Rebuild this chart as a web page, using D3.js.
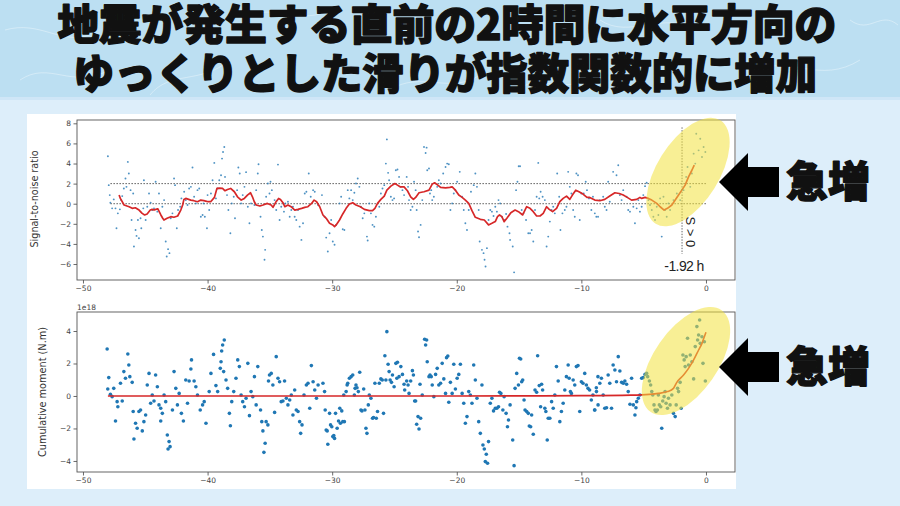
<!DOCTYPE html>
<html><head><meta charset="utf-8">
<script src="https://cdn.jsdelivr.net/npm/d3@7/dist/d3.min.js"></script>
<style>body{margin:0;padding:0;background:#ddeefa;}svg{display:block;}</style>
</head><body><svg id="c" width="900" height="506"></svg>
<script>
// ---------- DATA ----------
const titleLines = ["地震が発生する直前の2時間に水平方向の", "ゆっくりとした滑りが指数関数的に増加"];
const calloutText = "急増";
const snrLabel = "Signal-to-noise ratio";
const momentLabel = "Cumulative moment (N.m)";
const xTicks = [-50, -40, -30, -20, -10, 0];
const snrTicks = [-6, -4, -2, 0, 2, 4, 6, 8];
const momentTicks = [-4, -2, 0, 2, 4];
const snrThresholds = [0, 2];
const onsetTime = -1.92;
const onsetLabel = "-1.92 h";
const onsetNote = "S > 0";

// top panel: signal-to-noise ratio samples [time h, SNR]
const snrPoints = [
[-48.0,4.72],[-47.93,1.85],[-47.85,0.86],[-47.8,0.10],[-47.66,-0.46],[-47.53,0.43],[-47.39,-0.46],[-47.31,-2.44],[-47.2,-0.96],[-47.04,-0.56],
[-46.94,0.36],[-46.85,0.76],[-46.72,1.52],[-46.59,2.51],[-46.51,1.68],[-46.40,4.16],[-46.32,3.0],[-46.18,1.35],[-46.10,-1.62],[-45.97,1.02],
[-45.91,-4.26],[-45.78,-2.61],[-45.70,-3.2],[-45.59,-1.62],[-45.51,-3.43],[-45.38,-1.45],[-45.32,-2.44],[-45.16,-0.46],[-45.11,2.34],[-44.97,-1.62],
[-44.84,-0.30],[-44.70,1.02],[-44.57,0.10],[-44.44,-0.63],[-44.30,-0.46],[-44.17,2.18],[-44.03,-0.79],[-43.90,1.02],[-43.76,-2.44],[-43.63,-0.30],
[-43.49,0.36],[-43.36,-3.76],[-43.28,-5.25],[-43.17,-4.52],[-43.06,-4.92],[-42.96,-1.45],[-42.82,-0.96],[-42.69,2.51],[-42.61,1.85],[-42.47,-2.44],
[-42.37,-0.63],[-42.20,-0.30],[-42.10,0.53],[-41.88,1.19],[-41.75,0.36],[-41.61,-0.13],[-41.48,1.52],[-41.34,1.68],[-41.21,3.60],[-41.08,0.69],
[-40.94,0.03],[-40.81,1.35],[-40.67,1.52],[-40.54,-1.29],[-40.40,-1.12],[-40.32,0.03],[-40.22,-1.29],[-40.05,-2.44],[-40.0,0.86],[-39.87,-0.63],
[-39.73,1.02],[-39.60,2.34],[-39.46,4.06],[-39.33,0.53],[-39.19,1.52],[-39.06,2.34],[-38.92,2.84],[-38.84,4.49],[-38.76,5.15],[-38.66,5.64],
[-38.60,2.67],[-38.44,0.86],[-38.33,-0.63],[-38.17,-2.94],[-38.06,0.03],[-37.90,0.69],[-37.80,-1.45],[-37.63,1.35],[-37.53,3.60],[-37.42,3.0],
[-37.31,0.03],[-37.18,0.86],[-37.04,1.68],[-36.91,3.14],[-36.77,-0.30],[-36.64,-1.95],[-36.51,0.03],[-36.24,-0.13],[-36.10,1.35],[-35.97,3.0],
[-35.91,3.93],[-35.75,-1.29],[-35.65,-2.61],[-35.56,-3.27],[-35.43,-5.58],[-35.38,-4.59],[-35.30,0.69],[-35.16,2.01],[-35.03,1.02],[-34.95,2.18],
[-34.84,1.35],[-34.62,0.36],[-34.49,-0.63],[-34.35,3.89],[-34.22,-1.62],[-34.09,-0.30],[-33.87,-0.79],[-33.76,0.03],[-33.55,0.20],[-33.41,-1.29],
[-33.28,-0.63],[-33.15,-0.30],[-33.01,-1.29],[-32.88,-1.62],[-32.74,-0.63],[-32.61,-2.28],[-32.47,-3.60],[-32.34,-1.95],[-32.20,1.02],[-32.07,1.19],
[-31.88,3.0],[-31.72,0.69],[-31.53,1.35],[-31.40,1.19],[-31.13,-0.13],
[-30.82,0.86],[-30.61,-1.29],[-30.48,-3.37],[-30.35,-4.75],[-30.21,-2.94],[-30.08,-1.62],[-29.95,-3.76],[-29.81,-4.09],[-29.68,-2.11],[-29.41,0.03],
[-29.28,0.69],[-29.15,-2.54],[-29.02,-2.61],[-28.75,1.35],[-28.62,0.53],[-28.48,1.35],[-28.35,0.36],[-28.22,1.09],[-28.09,2.01],[-27.95,2.51],
[-27.82,1.68],[-27.69,-0.30],[-27.55,-1.45],[-27.42,-0.96],[-27.21,-3.27],[-27.15,-3.66],[-27.02,0.03],[-26.89,-0.96],[-26.76,-2.11],[-26.62,-2.28],
[-26.49,-1.29],[-26.22,-0.30],[-26.09,1.02],[-25.96,1.52],[-25.82,1.85],[-25.69,3.99],[-25.61,6.40],[-25.51,3.07],[-25.43,2.34],[-25.29,0.69],
[-25.16,0.36],[-25.03,0.53],[-24.89,3.33],[-24.76,3.40],[-24.63,2.67],[-24.49,1.68],[-24.36,1.35],[-24.23,0.86],[-24.02,2.67],[-23.91,1.68],
[-23.83,0.36],[-23.70,-0.63],[-23.56,-0.30],[-23.43,2.18],[-23.30,1.35],[-23.22,-0.63],[-23.11,-2.77],[-23.03,-3.33],[-22.90,-2.11],[-22.77,0.36],
[-22.63,5.64],[-22.50,5.05],[-22.42,5.58],[-22.37,3.33],[-22.23,3.50],[-22.15,1.02],[-22.05,1.35],[-21.97,0.36],[-21.84,0.69],[-21.57,1.68],
[-21.44,2.34],[-21.30,2.01],[-21.09,3.0],[-20.90,3.66],[-20.77,3.99],[-20.64,3.93],[-20.51,-0.63],[-20.37,0.03],[-20.24,1.02],[-20.11,1.35],
[-19.97,2.18],[-19.76,3.17],[-19.57,0.69],[-19.44,-0.63],[-19.31,-1.95],[-19.18,-2.61],[-19.04,-0.63],[-18.86,1.19],[-18.64,1.85],[-18.51,3.0],
[-18.38,1.68],[-18.24,-0.63],[-18.16,-3.76],[-17.98,-4.59],[-17.85,-4.92],[-17.77,-5.58],[-17.69,-6.24],[-17.58,-4.42],[-17.45,-1.62],[-17.31,-0.63],
[-17.18,-0.79],[-17.05,-1.22],[-16.91,-0.30],[-16.78,-0.79],[-16.65,0.36],[-16.52,0.03],[-16.38,-1.29],[-16.20,-1.62],[-16.04,-1.02],[-15.93,-2.28],
[-15.77,-2.94],[-15.72,-3.60],[-15.51,-4.26],[-15.40,-6.83],[-15.24,1.35],[-15.13,2.18],[-15.03,3.73],[-14.92,3.73],[-14.79,-0.63],[-14.65,-0.96],
[-14.44,-1.62],[-14.26,-2.94],[-14.12,-2.94],[-13.99,-2.61],[-13.86,-3.76],[-13.72,-0.63],[-13.59,0.69],[-13.46,4.06],[-13.38,0.53],[-13.27,1.19],
[-13.11,0.69],[-12.93,0.36],[-12.79,-4.26],[-12.66,-3.27],[-12.53,-1.78],[-12.39,-0.63],[-12.26,-0.30],[-12.13,-0.96],[-11.94,3.0],[-11.78,0.69],
[-11.68,-2.61],[-11.52,-0.96],[-11.33,-0.63],[-11.20,-0.30],[-11.06,3.17],[-10.93,1.68],[-10.80,1.02],[-10.66,-0.63],[-10.53,-1.29],[-10.40,3.0],
[-10.27,2.84],[-10.13,-1.62],[-10.0,1.02],[-9.81,1.02],[-9.65,2.18],[-9.55,1.35],[-9.39,0.53],[-9.20,-0.63],[-9.07,0.69],[-8.80,-1.29],
[-8.92,-0.96],[-8.66,-1.29],[-8.52,0.36],[-8.25,0.69],[-8.12,-0.30],[-7.98,-0.63],[-7.85,2.18],[-7.72,0.20],[-7.45,3.17],[-7.18,2.84],
[-7.04,3.83],[-6.91,0.86],[-6.77,0.36],[-6.64,1.35],[-6.37,0.69],[-6.24,-0.63],[-6.10,-0.79],[-5.83,-0.30],[-5.70,-1.95],[-5.56,-0.46],
[-5.43,0.36],[-5.30,-0.79],[-5.16,-0.30],[-5.03,0.86],[-4.89,1.75],[-4.76,2.08],[-4.62,0.36],[-4.49,-0.13],[-4.35,-0.63],[-4.22,-1.29],
[-4.09,-1.62],[-3.95,-0.30],[-3.82,-1.12],[-3.68,0.53],[-3.55,-3.27],[-3.41,0.69],[-3.28,-0.63],[-3.15,-1.29],[-3.01,0.03],[-2.88,-0.63],
[-2.61,0.36],[-2.34,1.02],[-2.07,0.36],[-1.80,1.35],[-1.59,2.67],[-1.48,3.66],[-1.26,1.68],[-1.13,3.0],[-0.99,4.98],[-0.86,3.99],
[-0.78,6.96],[-0.59,5.31],[-0.46,6.47],[-0.32,4.65],[-0.19,5.64],[-0.05,5.15]
];

// top panel: running mean of SNR [time h, SNR]
const snrMean = [
[-47.1,0.86],[-47.0,0.53],[-46.7,-0.13],[-46.3,-0.30],[-46.05,-0.46],[-45.8,-0.40],[-45.5,-0.63],[-45.25,-0.96],[-45.05,-1.12],[-44.85,-1.02],
[-44.6,-0.63],[-44.45,-0.56],[-44.3,-0.63],[-44.15,-0.56],[-44.0,-0.50],[-43.75,-1.12],[-43.6,-1.45],[-43.5,-1.62],[-43.25,-1.45],[-42.95,-1.29],
[-42.7,-1.35],[-42.4,-1.22],[-42.15,-0.63],[-42.0,-0.13],[-41.9,0.43],[-41.75,0.53],[-41.35,0.36],[-41.1,0.30],[-40.8,0.20],[-40.55,0.36],
[-40.3,0.30],[-40.15,0.26],[-39.95,0.20],[-39.75,0.20],[-39.45,0.63],[-39.25,1.52],[-39.05,1.55],[-38.8,1.52],[-38.6,1.29],[-38.4,1.42],
[-38.15,1.52],[-37.85,1.19],[-37.6,0.69],[-37.3,0.36],[-37.05,0.53],[-36.8,0.86],[-36.55,1.09],[-36.4,0.69],[-36.25,0.20],[-36.1,-0.13],
[-35.8,-0.23],[-35.55,-0.13],[-35.2,0.03],[-34.9,-0.13],[-34.75,-0.36],[-34.5,0.20],[-34.3,0.53],[-34.15,0.43],[-33.95,0.10],[-33.8,-0.30],
[-33.55,-0.13],[-33.3,-0.30],[-33.0,-0.63],[-32.75,-0.56],[-32.45,-0.46],[-32.2,-0.36],[-31.95,-0.30],[-31.65,0.03],[-31.45,0.36],[-31.25,0.20],
[-31.0,-0.30],[-30.74,-1.12],[-30.48,-1.45],[-30.21,-1.95],[-29.95,-2.11],[-29.81,-2.28],[-29.68,-2.11],[-29.41,-1.62],[-29.15,-1.02],[-28.88,-0.46],
[-28.62,-0.03],[-28.35,0.10],[-28.09,-0.13],[-27.74,-0.30],[-27.42,-0.56],[-27.02,-0.69],[-26.76,-0.69],[-26.57,-0.46],[-26.36,0.03],[-26.09,0.43],
[-25.82,0.76],[-25.61,1.35],[-25.29,1.75],[-24.97,2.01],[-24.76,1.85],[-24.55,1.68],[-24.23,1.68],[-23.96,1.29],[-23.70,0.69],[-23.48,0.43],
[-23.30,0.63],[-23.03,1.09],[-22.63,1.19],[-22.23,1.35],[-21.97,1.95],[-21.78,2.08],[-21.52,1.85],[-21.30,1.62],[-20.90,1.58],[-20.56,1.62],
[-20.37,1.68],[-20.11,1.35],[-19.84,0.86],[-19.57,0.63],[-19.31,0.36],[-19.04,0.03],[-18.78,-0.69],[-18.51,-1.35],[-18.11,-1.55],[-17.79,-1.62],
[-17.45,-2.11],[-17.18,-1.95],[-16.91,-1.78],[-16.73,-1.29],[-16.57,-1.12],[-16.38,-1.29],[-16.20,-1.78],[-15.98,-1.45],[-15.66,-0.89],[-15.32,-0.63],
[-15.05,-0.79],[-14.71,-1.12],[-14.39,-0.30],[-14.12,-0.46],[-13.86,-0.79],[-13.59,-1.22],[-13.32,-1.22],[-13.06,-0.96],[-12.79,-0.30],[-12.58,-0.56],
[-12.31,-0.79],[-11.99,-0.46],[-11.73,0.20],[-11.46,0.53],[-11.19,0.76],[-10.93,0.43],[-10.72,0.86],[-10.45,1.35],[-10.19,1.19],[-9.87,0.96],
[-9.55,0.63],[-9.33,0.63],[-8.92,0.36],[-8.52,0.30],[-8.12,0.43],[-7.72,0.76],[-7.31,1.09],[-6.96,1.02],[-6.64,0.86],[-6.32,0.63],
[-5.97,0.36],[-5.56,0.43],[-5.30,0.63],[-5.16,0.53],[-4.89,0.63],[-4.62,0.53],[-4.35,0.36],[-3.95,0.03],[-3.68,-0.30],[-3.36,-0.63],
[-3.09,-0.46],[-2.74,-0.13],[-2.47,0.36],[-2.20,0.86],[-1.94,1.35],[-1.67,1.85],[-1.40,2.67],[-1.13,3.33],[-0.94,3.83]
];

// bottom panel: cumulative moment samples [time h, moment / 1e18 N.m]
const momentPoints = [
[-48.06,2.89],[-47.93,1.13],[-48.01,0.43],[-47.80,0.10],[-47.66,-0.04],[-47.53,0.47],[-47.39,-1.54],[-47.26,-0.35],[-47.20,-0.66],[-46.99,0.78],
[-46.85,-0.31],[-46.72,1.50],[-46.59,1.09],[-46.40,2.58],[-46.32,1.91],[-46.24,1.19],[-46.05,0.84],[-45.97,-0.96],[-45.91,-2.65],[-45.78,-1.68],
[-45.65,-1.99],[-45.51,-0.96],[-45.38,-0.86],[-45.24,-2.15],[-45.11,-1.58],[-44.97,-1.17],[-44.84,0.68],[-44.70,1.39],[-44.57,-0.45],[-44.44,0.06],
[-44.30,-0.31],[-44.17,1.29],[-44.03,0.57],[-43.90,-0.55],[-43.76,-0.76],[-43.63,-1.07],[-43.76,-1.54],[-43.49,0.06],[-43.36,-0.35],[-43.23,-2.40],
[-43.17,-3.26],[-43.09,-2.81],[-43.01,-3.12],[-42.82,-0.86],[-42.69,1.50],[-42.55,0.47],[-42.42,-0.55],[-42.28,0.16],[-42.10,-1.07],[-41.94,-1.54],
[-41.75,0.98],[-41.61,-0.45],[-41.48,0.92],[-41.34,1.66],[-41.29,2.22],[-41.08,0.92],[-40.94,0.57],[-40.81,0.06],[-40.59,-0.86],[-40.40,-0.55],
[-40.27,-0.35],[-40.13,-1.68],[-39.87,0.27],[-39.73,1.39],[-39.52,2.56],[-39.33,0.64],[-39.19,0.27],[-38.98,1.70],[-38.92,2.11],[-38.87,2.77],
[-38.79,3.14],[-38.66,3.45],[-38.71,1.50],[-38.52,0.98],[-38.39,0.47],[-38.25,-1.07],[-38.17,-1.83],[-38.06,-0.35],[-37.90,0.27],[-37.72,1.09],
[-37.58,2.22],[-37.45,1.81],[-37.31,0.06],[-37.18,-0.35],[-37.04,-0.66],[-36.91,-0.14],[-36.77,2.01],[-36.64,-1.21],[-36.51,0.27],[-36.37,-0.04],
[-36.24,1.19],[-36.10,-0.55],[-35.97,1.81],[-35.75,-0.86],[-35.65,-1.58],[-35.56,-2.15],[-35.48,-3.47],[-35.38,-2.91],[-35.30,-1.58],[-35.16,-1.78],
[-35.11,0.92],[-35.03,1.29],[-34.89,1.39],[-34.76,0.68],[-34.62,-1.01],[-34.49,2.42],[-34.35,1.09],[-34.22,0.88],[-34.09,-0.35],[-33.95,-0.31],
[-33.82,0.92],[-33.68,-0.14],[-33.55,-0.55],[-33.41,-0.25],[-33.28,0.06],[-33.15,-1.17],[-33.01,0.37],[-32.88,-0.86],[-32.74,-0.96],[-32.61,-1.58],
[-32.53,-2.30],[-32.42,-1.78],[-32.26,0.06],[-32.07,0.68],[-31.94,0.78],[-31.80,-0.76],[-31.67,1.87],[-31.53,0.88],[-31.40,0.37],[-31.26,-0.14],
[-31.13,0.68],
[-30.74,0.78],[-30.61,0.27],[-30.56,-0.86],[-30.48,-2.09],[-30.40,-2.15],[-30.35,-2.97],[-30.21,-1.07],[-30.13,-1.78],[-30.03,-1.89],[-29.95,-2.50],
[-29.87,-2.44],[-29.81,-2.61],[-29.73,-1.07],[-29.60,-1.99],[-29.49,-1.54],[-29.39,-0.76],[-29.34,-1.68],[-29.23,-0.92],[-29.15,-1.58],[-29.02,-1.58],
[-29.07,0.06],[-28.88,0.27],[-28.80,0.68],[-28.75,0.78],[-28.62,1.09],[-28.48,1.19],[-28.35,1.29],[-28.22,0.06],[-28.16,0.47],[-28.09,0.68],
[-28.01,0.51],[-27.90,0.27],[-27.79,1.46],[-27.69,-0.86],[-27.61,-0.92],[-27.47,0.43],[-27.37,-0.86],[-27.29,-1.99],[-27.21,-2.30],[-27.10,-0.55],
[-27.02,0.06],[-26.89,-0.14],[-26.76,-1.37],[-26.68,-1.33],[-26.57,0.78],[-26.46,-1.37],[-26.36,-0.96],[-26.22,0.78],[-26.09,1.05],[-25.98,0.98],
[-25.88,-1.07],[-25.77,2.48],[-25.69,0.98],[-25.61,3.96],[-25.51,1.95],[-25.43,1.50],[-25.35,0.98],[-25.24,0.84],[-25.16,1.29],[-25.03,0.57],
[-24.89,2.01],[-24.81,1.09],[-24.76,2.07],[-24.63,1.19],[-24.49,1.81],[-24.36,1.33],[-24.23,0.72],[-24.18,0.37],[-24.02,0.92],[-23.91,0.68],
[-23.83,0.16],[-23.70,0.92],[-23.56,1.56],[-23.48,1.29],[-23.38,-0.31],[-23.30,-0.31],[-23.22,-1.74],[-23.11,-1.27],[-23.03,-2.03],[-22.95,0.72],
[-22.90,-1.37],[-22.77,0.06],[-22.58,3.49],[-22.50,3.14],[-22.42,3.45],[-22.37,2.11],[-22.23,1.19],[-22.15,1.29],[-22.05,1.19],[-21.97,0.68],
[-21.84,-0.04],[-21.70,1.33],[-21.57,1.70],[-21.44,0.68],[-21.30,0.78],[-21.17,2.01],[-21.04,1.05],[-20.90,0.16],[-20.82,2.36],[-20.72,2.46],
[-20.64,-0.39],[-20.51,0.84],[-20.37,0.16],[-20.24,1.95],[-20.11,0.43],[-19.97,1.09],[-19.84,1.33],[-19.71,1.95],[-19.57,0.16],[-19.44,-0.45],
[-19.31,-1.68],[-19.18,-1.27],[-19.04,0.27],[-18.91,0.06],[-18.78,-0.45],[-18.64,1.91],[-18.51,0.98],[-18.38,-0.14],[-18.24,-1.58],[-18.11,-2.30],
[-17.98,0.68],[-17.90,-3.02],[-17.79,-3.26],[-17.71,-4.04],[-17.63,-3.59],[-17.53,-4.14],[-17.45,-2.81],[-17.31,-0.45],[-17.18,-0.14],[-17.05,-0.92],
[-16.91,-0.76],[-16.78,-0.76],[-16.65,-0.66],[-16.57,0.23],[-16.46,0.16],[-16.30,-0.86],[-16.20,-0.04],[-16.04,-1.07],[-15.93,-1.89],[-15.85,-1.48],
[-15.72,-0.55],[-15.51,-2.71],[-15.40,-4.29],[-15.32,0.47],[-15.19,1.39],[-15.05,0.68],[-14.97,2.32],[-14.87,2.28],[-14.79,0.88],[-14.71,0.98],
[-14.60,-0.25],[-14.52,-0.86],[-14.39,-0.96],[-14.26,-1.07],[-14.18,-1.85],[-14.07,-1.89],[-13.99,-1.17],[-13.86,-2.36],[-13.72,0.37],[-13.59,0.23],
[-13.51,2.48],[-13.38,0.64],[-13.27,-0.66],[-13.19,0.72],[-13.11,0.37],[-12.93,-0.76],[-12.85,-0.96],[-12.74,-2.71],[-12.66,-1.37],[-12.53,-1.37],
[-12.39,-0.35],[-12.26,-0.76],[-12.13,0.06],[-12.0,1.81],[-11.86,0.92],[-11.73,-1.58],[-11.60,-0.96],[-11.46,-0.45],[-11.33,0.37],[-11.20,1.19],
[-11.06,1.91],[-10.98,1.09],[-10.88,0.27],[-10.80,0.16],[-10.66,0.98],[-10.53,0.68],[-10.40,1.81],[-10.27,1.87],[-10.13,-0.96],[-10.0,0.88],
[-9.87,0.78],[-9.73,1.39],[-9.60,0.68],[-9.47,0.47],[-9.34,0.37],[-9.20,-0.25],[-9.07,0.06],[-8.94,-0.86],[-8.80,0.51],[-8.67,1.19],
[-8.92,-0.86],[-8.79,0.27],[-8.66,-0.55],[-8.52,0.78],[-8.39,1.09],[-8.25,0.06],[-8.12,-0.76],[-7.98,-0.72],[-7.85,1.29],[-7.72,0.78],
[-7.58,-0.76],[-7.45,1.91],[-7.31,1.60],[-7.18,0.88],[-7.04,2.42],[-6.91,1.54],[-6.77,0.84],[-6.64,0.78],[-6.51,0.92],[-6.37,0.72],
[-6.24,0.27],[-6.10,-0.51],[-5.97,1.09],[-5.83,-0.55],[-5.70,-1.17],[-5.62,-0.72],[-5.56,-0.35],[-5.43,-0.14],[-5.30,0.06],[-5.16,1.09],
[-5.03,1.13],[-4.89,1.33],[-4.76,1.39],[-4.68,1.19],[-4.54,0.92],[-4.44,0.68],[-4.35,0.27],[-4.27,0.06],[-4.17,-0.55],[-4.09,-0.86],
[-4.01,-0.96],[-3.90,-0.86],[-3.82,0.06],[-3.74,-0.55],[-3.63,-0.66],[-3.55,-1.99],[-3.47,-0.31],[-3.36,-0.04],[-3.28,0.27],[-3.20,-0.45],
[-3.09,-0.76],[-3.01,-0.14],[-2.88,-0.55],[-2.74,0.06],[-2.61,-1.07],[-2.47,-1.27],[-2.39,-0.55],[-2.28,0.47],[-2.20,0.27],[-2.07,0.84],
[-1.99,-0.76],[-1.85,2.52],[-1.75,2.22],[-1.67,1.81],[-1.59,2.42],[-1.48,3.55],[-1.40,1.91],[-1.26,2.52],[-1.13,2.11],[-0.99,1.05],
[-0.86,3.04],[-0.73,4.27],[-0.67,3.45],[-0.59,3.75],[-0.51,4.68],[-0.46,3.24],[-0.32,3.65],[-0.24,2.01],[-0.13,3.34],[-0.05,0.92]
];

// bottom panel: fitted moment curve [time h, moment / 1e18 N.m]
const momentFit = [
[-48.0,0.0],[-40.0,0.0],[-30.0,0.0],[-20.0,0.0],[-10.0,0.02],[-6.0,0.05],[-4.54,0.10],[-3.82,0.16],[-3.09,0.27],[-2.61,0.47],
[-2.34,0.84],[-1.80,1.29],[-1.40,1.70],[-0.99,2.22],[-0.59,2.83],[-0.32,3.24],[-0.13,3.65],[0.0,3.92]
];

// ---------- DRAW ----------
const svg = d3.select("#c");
const W = 900, H = 506;

// background
svg.append("rect").attr("width", W).attr("height", H).attr("fill", "#ddeefa");
svg.append("rect").attr("width", W).attr("height", 97).attr("fill", "#bcdff2");
const streaks = ["M5,30 C40,20 60,45 90,35", "M20,80 C50,60 70,90 110,70", "M150,95 C170,70 200,85 230,60",
  "M390,90 C420,70 450,95 480,75", "M600,20 C630,40 660,10 700,30", "M760,70 C790,55 820,85 860,60",
  "M850,20 C870,35 880,10 898,25", "M250,15 C280,5 300,25 330,10", "M520,88 C540,75 560,92 590,80"];
svg.append("g").selectAll("path").data(streaks).join("path")
  .attr("d", d => d).attr("fill", "none").attr("stroke", "#ffffff").attr("stroke-opacity", 0.45).attr("stroke-width", 0.8);
svg.append("rect").attr("x", 0).attr("y", 97).attr("width", W).attr("height", 3).attr("fill", "#cfe6f7");

// title
const titleFont = "'Noto Sans CJK JP','Noto Sans CJK SC',sans-serif";
const tg = svg.append("g").attr("font-family", titleFont).attr("font-weight", 900).attr("font-size", 42)
  .attr("fill", "#111").attr("stroke", "#111").attr("stroke-width", 1.4).attr("stroke-linejoin", "round").attr("text-anchor", "middle");
tg.append("text").attr("x", 447).attr("y", 40).attr("textLength", 779).attr("lengthAdjust", "spacingAndGlyphs").text(titleLines[0]);
tg.append("text").attr("x", 445).attr("y", 89).attr("textLength", 744).attr("lengthAdjust", "spacingAndGlyphs").text(titleLines[1]);

// white figure panel
svg.append("rect").attr("x", 27).attr("y", 114).attr("width", 709).attr("height", 375).attr("fill", "#ffffff");

const tickFont = "'DejaVu Sans',sans-serif";
const axisColor = "#444";

function styleAxis(g) {
  g.select(".domain").remove();
  g.selectAll(".tick line").attr("stroke", axisColor).attr("stroke-width", 0.8);
  g.selectAll(".tick text").attr("fill", "#444").attr("font-size", 7.5).attr("font-family", tickFont);
}

function makePanel(cfg) {
  const x = d3.scaleLinear().domain([-50.48, 2.33]).range([77, 735]);
  const y = d3.scaleLinear().domain(cfg.yDomain).range([cfg.bottom, cfg.top]);
  const g = svg.append("g");
  const clip = "clip" + cfg.id;
  svg.append("clipPath").attr("id", clip).append("rect")
    .attr("x", 77).attr("y", cfg.top).attr("width", 658).attr("height", cfg.bottom - cfg.top);
  cfg.x = x; cfg.y = y; cfg.g = g; cfg.clip = clip;
  g.append("g").attr("transform", `translate(0,${cfg.bottom})`)
    .call(d3.axisBottom(x).tickValues(xTicks).tickSize(3.5).tickPadding(2.5).tickFormat(d3.format("d"))).call(styleAxis);
  g.append("g").attr("transform", "translate(77,0)")
    .call(d3.axisLeft(y).tickValues(cfg.ticks).tickSize(3.5).tickPadding(2.5).tickFormat(d3.format("d"))).call(styleAxis);
  return cfg;
}

function spines(p) {
  p.g.append("rect").attr("x", 77).attr("y", p.top).attr("width", 658).attr("height", p.bottom - p.top)
    .attr("fill", "none").attr("stroke", "#555").attr("stroke-width", 0.9);
}

// ----- top panel -----
const snrP = makePanel({ id: "t", top: 120, bottom: 280, yDomain: [-7.59, 8.33], ticks: snrTicks });
const tp = snrP.g.append("g").attr("clip-path", `url(#${snrP.clip})`);
tp.selectAll("line.thr").data(snrThresholds).join("line").attr("class", "thr")
  .attr("x1", snrP.x(-47.8)).attr("x2", snrP.x(0)).attr("y1", d => snrP.y(d)).attr("y2", d => snrP.y(d))
  .attr("stroke", "#555").attr("stroke-width", 0.9).attr("stroke-dasharray", "1.6,1.4");
tp.selectAll("circle").data(snrPoints).join("circle")
  .attr("cx", d => snrP.x(d[0])).attr("cy", d => snrP.y(d[1])).attr("r", 0.95)
  .attr("fill", "#2f7fb8").attr("fill-opacity", 0.85);
tp.append("path").datum(snrMean)
  .attr("d", d3.line().x(d => snrP.x(d[0])).y(d => snrP.y(d[1])))
  .attr("fill", "none").attr("stroke", "#d62728").attr("stroke-width", 1.7).attr("stroke-linejoin", "round");
tp.append("line").attr("x1", snrP.x(onsetTime)).attr("x2", snrP.x(onsetTime)).attr("y1", snrP.y(7.6)).attr("y2", snrP.y(-5.0))
  .attr("stroke", "#555").attr("stroke-width", 0.9).attr("stroke-dasharray", "1.4,1.4");
spines(snrP);
svg.append("text").attr("transform", `translate(${snrP.x(onsetTime) + 4},${snrP.y(-2.8)}) rotate(90)`)
  .attr("text-anchor", "middle").attr("font-family", "'Liberation Sans',Arial,sans-serif").attr("font-size", 13).attr("fill", "#222")
  .text(onsetNote);
svg.append("text").attr("x", snrP.x(onsetTime) + 2).attr("y", 271).attr("text-anchor", "middle")
  .attr("font-family", "'Liberation Sans',Arial,sans-serif").attr("font-size", 14).attr("letter-spacing", -0.6).attr("fill", "#222")
  .text(onsetLabel);
svg.append("text").attr("transform", "translate(38,199) rotate(-90)").attr("text-anchor", "middle")
  .attr("font-family", tickFont).attr("font-size", 9.6).attr("textLength", 97).attr("lengthAdjust", "spacingAndGlyphs")
  .attr("fill", "#333").text(snrLabel);

// ----- bottom panel -----
const momP = makePanel({ id: "b", top: 312, bottom: 472, yDomain: [-4.68, 5.17], ticks: momentTicks });
const bp = momP.g.append("g").attr("clip-path", `url(#${momP.clip})`);
bp.selectAll("circle").data(momentPoints).join("circle")
  .attr("cx", d => momP.x(d[0])).attr("cy", d => momP.y(d[1])).attr("r", 1.8)
  .attr("fill", "#1f77b4");
bp.append("path").datum(momentFit)
  .attr("d", d3.line().x(d => momP.x(d[0])).y(d => momP.y(d[1])).curve(d3.curveMonotoneX))
  .attr("fill", "none").attr("stroke", "#d62728").attr("stroke-width", 1.6);
spines(momP);
svg.append("text").attr("x", 77).attr("y", 310).attr("font-family", tickFont).attr("font-size", 7.5).attr("fill", "#444").text("1e18");
svg.append("text").attr("transform", "translate(46,392) rotate(-90)").attr("text-anchor", "middle")
  .attr("font-family", tickFont).attr("font-size", 10.4).attr("textLength", 130).attr("lengthAdjust", "spacingAndGlyphs")
  .attr("fill", "#333").text(momentLabel);

// yellow highlight ellipses
const hl = [{ cx: 688, cy: 172, rx: 31, ry: 61, a: 32 }, { cx: 686, cy: 361, rx: 32, ry: 62, a: 35 }];
svg.append("g").selectAll("ellipse").data(hl).join("ellipse")
  .attr("transform", d => `translate(${d.cx},${d.cy}) rotate(${d.a})`)
  .attr("rx", d => d.rx).attr("ry", d => d.ry)
  .attr("fill", "#f2e23e").attr("fill-opacity", 0.55);

// arrows + callouts
const arrowYs = [182, 367];
const arrow = cy => [[719, cy], [748, cy - 29], [748, cy - 15], [779, cy - 15], [779, cy + 15], [748, cy + 15], [748, cy + 29]];
svg.append("g").selectAll("polygon").data(arrowYs).join("polygon")
  .attr("points", d => arrow(d).map(p => p.join(",")).join(" ")).attr("fill", "#000");
svg.append("g").selectAll("text").data(arrowYs).join("text")
  .attr("x", 828).attr("y", d => d + 15).attr("text-anchor", "middle")
  .attr("font-family", titleFont).attr("font-weight", 900).attr("font-size", 42)
  .attr("fill", "#111").attr("stroke", "#111").attr("stroke-width", 1.4).attr("stroke-linejoin", "round")
  .text(calloutText);
</script></body></html>
